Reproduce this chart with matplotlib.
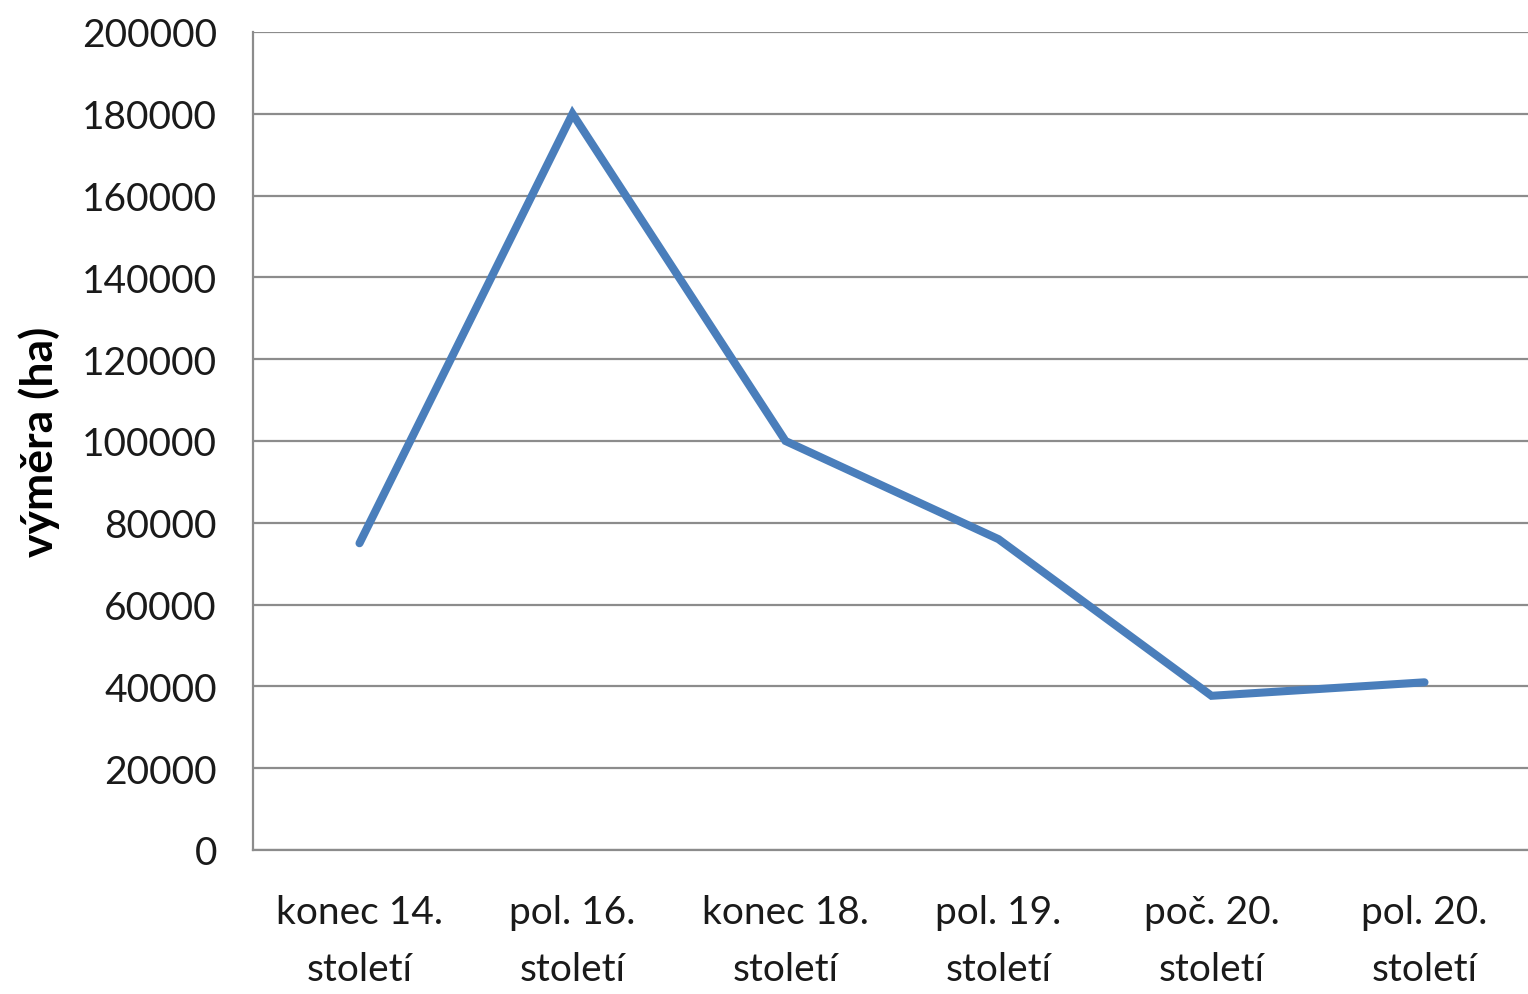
import matplotlib
matplotlib.use("Agg")
import matplotlib.pyplot as plt

categories = ["konec 14.\nstoletí", "pol. 16.\nstoletí", "konec 18.\nstoletí",
              "pol. 19.\nstoletí", "poč. 20.\nstoletí", "pol. 20.\nstoletí"]
values = [75000, 180000, 100000, 76000, 37700, 41000]
yticks = [0, 20000, 40000, 60000, 80000, 100000, 120000, 140000, 160000, 180000, 200000]

plt.rcParams['font.family'] = ['Lato', 'DejaVu Sans']

fig = plt.figure(figsize=(15.28, 9.95), dpi=100)
ax = fig.add_axes([253/1528, 1 - 851/995, (1531-253)/1528, (851-33)/995])

x = list(range(len(categories)))
ax.plot(x, values, color="#4A7EBB", linewidth=5.8, solid_capstyle="round", solid_joinstyle="miter", zorder=3)

ax.set_xlim(-0.5, len(categories) - 0.5)
ax.set_ylim(0, 200000)
ax.set_yticks(yticks)
ax.set_yticklabels([str(v) for v in yticks], fontsize=28, color="#1a1a1a")
ax.set_xticks(x)
ax.set_xticklabels(categories, fontsize=28, color="#1a1a1a", linespacing=1.7)
ax.tick_params(axis='both', length=0)
ax.tick_params(axis='y', pad=26)
ax.tick_params(axis='x', pad=32)
ax.grid(axis='y', color="#8c8c8c", linewidth=1.6, zorder=1)
ax.set_axisbelow(True)
for s in ['top', 'right']:
    ax.spines[s].set_visible(False)
for s in ['left', 'bottom']:
    ax.spines[s].set_color("#8c8c8c")
    ax.spines[s].set_linewidth(1.6)

ax.set_ylabel("výměra (ha)", fontsize=32, fontweight='bold')
ax.yaxis.set_label_coords(-(253 - 60) / (1531 - 253), (851 - 442) / (851 - 33))

fig.savefig("out.png", dpi=100)
